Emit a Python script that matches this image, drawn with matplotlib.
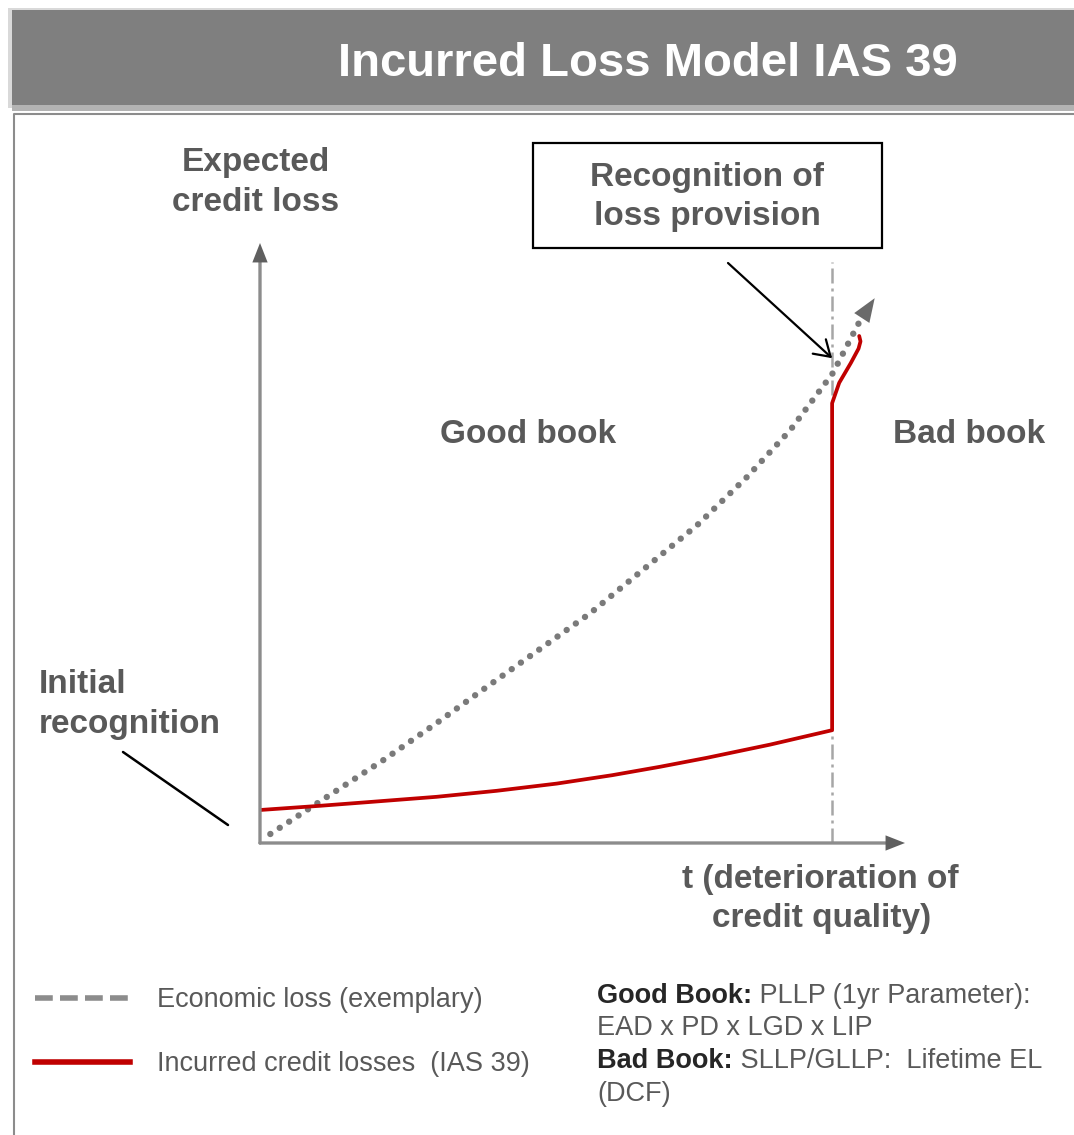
import matplotlib
matplotlib.use("Agg")
import matplotlib.pyplot as plt
from matplotlib.lines import Line2D
from matplotlib.patches import Rectangle

plt.rcParams["font.family"] = ["Liberation Sans", "DejaVu Sans"]

W, H = 1074, 1135
GREY_TXT = "#595959"
RED = "#c00000"

TITLE = "Incurred Loss Model IAS 39"

# economic loss (exemplary): t vs expected credit loss
econ_t = [0.16, 1.04, 1.91, 2.74, 3.41, 5.12, 6.78, 7.55, 8.22, 8.88, 9.30]
econ_loss = [0.15, 0.77, 1.38, 2.00, 2.52, 3.83, 5.30, 6.10, 6.88, 7.83, 8.70]
econ_tip = (9.53, 9.08)

# incurred credit losses (IAS 39): slow build-up, jump at the trigger event
icl_t = [0.0, 0.93, 1.66, 2.74, 3.67, 4.60, 5.46, 6.20, 6.93, 7.91, 8.87,
         8.87, 8.98, 9.16, 9.28, 9.31, 9.29]
icl_loss = [0.55, 0.62, 0.68, 0.77, 0.87, 0.99, 1.13, 1.27, 1.42, 1.64, 1.88,
            7.33, 7.67, 8.00, 8.24, 8.36, 8.45]

T_TRIGGER = 8.87          # loss event -> recognition of provision
TRIGGER_TOP = 9.68
RECOG_AT = 8.08

y_label = ["Expected", "credit loss"]
x_label = ["t (deterioration of", "credit quality)"]
box_label = ["Recognition of", "loss provision"]
init_label = ["Initial", "recognition"]
region_labels = ["Good book", "Bad book"]

legend_labels = ["Economic loss (exemplary)", "Incurred credit losses  (IAS 39)"]
note_bold = ["Good Book:", None, "Bad Book:", None]
note_rest = [" PLLP (1yr Parameter):", "EAD x PD x LGD x LIP",
             " SLLP/GLLP:  Lifetime EL", "(DCF)"]

fig = plt.figure(figsize=(W / 100, H / 100), dpi=100)

# page overlay in pixel units (header, frame, labels)
bg = fig.add_axes([0, 0, 1, 1])
bg.set_xlim(0, W); bg.set_ylim(H, 0); bg.axis("off")

bg.add_patch(Rectangle((8, 8), W, 100, color="#d9d9d9", lw=0))
bg.add_patch(Rectangle((12, 10), W, 95, color="#7f7f7f", lw=0))
bg.add_patch(Rectangle((12, 105), W, 6, color="#b3b3b3", lw=0))
bg.text(648, 76, TITLE, color="white", fontsize=34, fontweight="bold",
        ha="center", va="baseline")
bg.plot([14, 14, W], [H, 114, 114], color="#8c8c8c", lw=1.5)

lab = dict(fontsize=24, fontweight="bold", color=GREY_TXT, va="baseline")
bg.text(256, 171, y_label[0], ha="center", **lab)
bg.text(256, 211, y_label[1], ha="center", **lab)
bg.text(820, 888, x_label[0], ha="center", **lab)
bg.text(822, 927, x_label[1], ha="center", **lab)
bg.text(39, 693, init_label[0], ha="left", **lab)
bg.text(39, 733, init_label[1], ha="left", **lab)
bg.text(528, 443, region_labels[0], ha="center", **lab)
bg.text(969, 443, region_labels[1], ha="center", **lab)

bg.add_patch(Rectangle((533, 143), 349, 105, fill=False, ec="black", lw=1.6))
bg.text(707, 186, box_label[0], ha="center", **lab)
bg.text(707, 225, box_label[1], ha="center", **lab)

bg.annotate("", xy=(228, 825), xytext=(123, 752),
            arrowprops=dict(arrowstyle="-", lw=1.8, color="black",
                            shrinkA=0, shrinkB=0))

# chart axes: origin at the corner of the two arrows
ax = fig.add_axes([260 / W, 1 - 843 / H, (905 - 260) / W, (843 - 243) / H])
ax.set_xlim(0, 10); ax.set_ylim(0, 10)
ax.patch.set_visible(False)
ax.axis("off")

shaft = dict(arrowstyle="-", lw=2.4, color="#8c8c8c", shrinkA=0, shrinkB=0)
head = dict(arrowstyle="-|>,head_length=1.4,head_width=0.55", lw=0,
            color="#5f5f5f", shrinkA=0, shrinkB=0, mutation_scale=10)
ax.annotate("", xy=(0.97, 0), xytext=(0, 0), xycoords="axes fraction", arrowprops=shaft)
ax.annotate("", xy=(1, 0), xytext=(0.96, 0), xycoords="axes fraction", arrowprops=head)
ax.annotate("", xy=(0, 0.97), xytext=(0, 0), xycoords="axes fraction", arrowprops=shaft)
ax.annotate("", xy=(0, 1), xytext=(0, 0.96), xycoords="axes fraction", arrowprops=head)

ax.vlines(T_TRIGGER, 0, TRIGGER_TOP, color="#a6a6a6", lw=1.8,
          linestyles=[(0, (6, 2, 1.2, 2))])

ax.plot(econ_t, econ_loss, color="#7a7a7a", lw=4.6, ls=(0, (0.01, 1.75)),
        dash_capstyle="round", solid_capstyle="round")
ax.annotate("", xy=econ_tip, xytext=(econ_t[-1], econ_loss[-1]),
            arrowprops=dict(arrowstyle="-|>,head_length=1.7,head_width=0.65",
                            lw=0, color="#6a6a6a", shrinkA=0, shrinkB=0,
                            mutation_scale=10))

ax.plot(icl_t, icl_loss, color=RED, lw=2.7, solid_joinstyle="round",
        solid_capstyle="round")

ax.annotate("", xy=(T_TRIGGER, RECOG_AT), xytext=(728, 263), textcoords=bg.transData,
            arrowprops=dict(arrowstyle="->,head_length=1.1,head_width=0.7",
                            lw=1.6, color="black", shrinkA=0, shrinkB=0,
                            mutation_scale=10))

handles = [Line2D([], [], color="#8c8c8c", lw=4, ls=(0, (3.2, 1.3))),
           Line2D([], [], color=RED, lw=4)]
fig.legend(handles, legend_labels, loc="upper left",
           bbox_to_anchor=(35 / W, 1 - 987 / H), frameon=False,
           borderpad=0, borderaxespad=0, handlelength=3.5, handletextpad=1.0,
           labelspacing=1.42, fontsize=19.5, labelcolor=GREY_TXT)

note_y = [1003, 1035, 1068, 1101]
for bold, rest, yb in zip(note_bold, note_rest, note_y):
    if bold:
        tb = bg.text(597, yb, bold, fontsize=19.5, fontweight="bold",
                     color="#262626", va="baseline")
        bg.annotate(rest, xy=(1, 0), xycoords=tb, fontsize=19.5,
                    color=GREY_TXT, va="bottom", ha="left")
    else:
        bg.text(597, yb, rest, fontsize=19.5, color=GREY_TXT, va="baseline")

fig.savefig("out.png", dpi=100)
